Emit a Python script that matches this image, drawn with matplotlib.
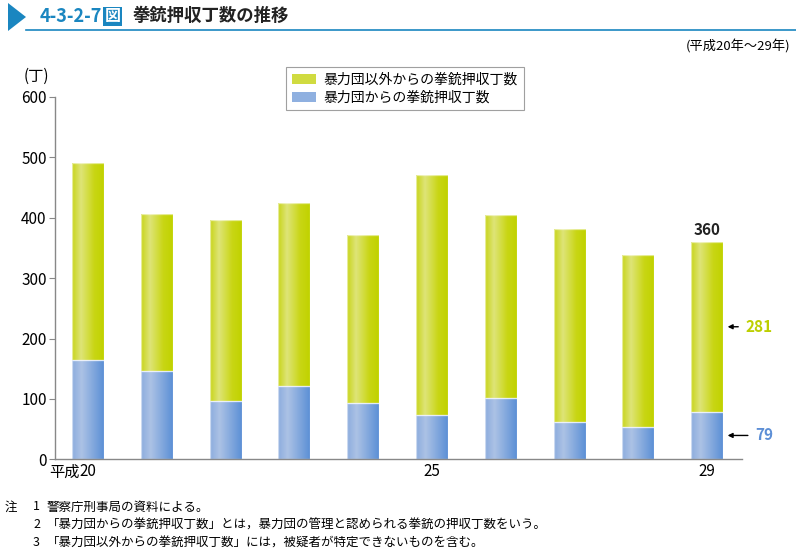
import numpy as np
import matplotlib.pyplot as plt
from matplotlib.patches import Polygon, Patch
from matplotlib.lines import Line2D

plt.rcParams['font.family'] = ['Noto Sans CJK JP', 'DejaVu Sans']

# データ（平成20年～29年）
years = ['20', '21', '22', '23', '24', '25', '26', '27', '28', '29']
tick_labels = ['20', '', '', '', '', '25', '', '', '', '29']
gang = [165, 147, 97, 122, 94, 73, 102, 62, 53, 79]          # 暴力団からの拳銃押収丁数
other = [326, 259, 299, 303, 278, 397, 303, 320, 286, 281]   # 暴力団以外からの拳銃押収丁数
total = [g + o for g, o in zip(gang, other)]

label_other = '暴力団以外からの拳銃押収丁数'
label_gang = '暴力団からの拳銃押収丁数'

GREEN = '#c6d400'
BLUE = '#6f9ad8'
TITLE_BLUE = '#1a86c0'

W, H = 796, 549


def fx(px):
    return px / W


def fy(py):
    return 1 - py / H


def grad_fill(ax, patch, stops):
    # 棒の中を横方向グラデーションで塗る
    x, y = patch.get_x(), patch.get_y()
    w, h = patch.get_width(), patch.get_height()
    t = np.linspace(0, 1, 80)
    pos = [s[0] for s in stops]
    rgb = np.array([s[1] for s in stops]) / 255.0
    row = np.stack([np.interp(t, pos, rgb[:, k]) for k in range(3)], axis=1)
    arr = np.tile(row[None, :, :], (2, 1, 1))
    im = ax.imshow(arr, extent=(x, x + w, y, y + h), aspect='auto',
                   interpolation='bilinear', zorder=2.1)
    im.set_clip_path(patch)


green_stops = [(0, (200, 213, 25)), (0.28, (222, 228, 120)), (0.7, (201, 214, 20)), (1.0, (192, 210, 0))]
blue_stops = [(0, (140, 172, 222)), (0.3, (172, 194, 229)), (1.0, (92, 144, 214))]

fig = plt.figure(figsize=(W / 100, H / 100), dpi=100)
ax = fig.add_axes([fx(55), fy(459.3), fx(741.7) - fx(55), fy(97) - fy(459.3)])

x = np.arange(len(years))
bw = 0.465
bars_g = ax.bar(x, gang, bw, color=BLUE, edgecolor='none', zorder=2)
bars_o = ax.bar(x, other, bw, bottom=gang, color=GREEN, edgecolor='none', zorder=2)

for p in bars_g:
    grad_fill(ax, p, blue_stops)
for p in bars_o:
    grad_fill(ax, p, green_stops)

# 棒の縁取り（淡い線）
for p in list(bars_g) + list(bars_o):
    ax.add_patch(plt.Rectangle((p.get_x(), p.get_y()), p.get_width(), p.get_height(),
                               fill=False, edgecolor='white', alpha=0.55, lw=0.9, zorder=2.5))

ax.set_xlim(-0.48, 9.5)
ax.set_ylim(0, 600)
ax.set_yticks([0, 100, 200, 300, 400, 500, 600])
ax.set_xticks(x)
ax.set_xticklabels(tick_labels, fontsize=11)
ax.tick_params(axis='x', length=0, pad=3)
ax.tick_params(axis='y', length=4, width=0.8, color='#888888', labelsize=11, pad=2)
for s in ['top', 'right']:
    ax.spines[s].set_visible(False)
for s in ['left', 'bottom']:
    ax.spines[s].set_color('#888888')
    ax.spines[s].set_linewidth(1.0)

ax.annotate('平成', xy=(0, 0), xycoords=('data', 'axes fraction'), xytext=(-6, -3),
            textcoords='offset points', ha='right', va='top', fontsize=11)

# 29年の注記
i = len(years) - 1
ax.text(x[i], total[i] + 6, str(total[i]), ha='center', va='bottom', fontsize=11,
        fontweight='bold', color='#222222')
ax.annotate('', xy=(x[i] + 0.255, gang[i] + other[i] / 2), xytext=(x[i] + 0.49, gang[i] + other[i] / 2),
            arrowprops=dict(arrowstyle='-|>', color='black', lw=1.0, mutation_scale=7))
ax.text(x[i] + 0.56, gang[i] + other[i] / 2, str(other[i]), ha='left', va='center',
        fontsize=11, fontweight='bold', color='#bccf00')
ax.annotate('', xy=(x[i] + 0.255, gang[i] / 2), xytext=(x[i] + 0.63, gang[i] / 2),
            arrowprops=dict(arrowstyle='-|>', color='black', lw=1.0, mutation_scale=7))
ax.text(x[i] + 0.69, gang[i] / 2, str(gang[i]), ha='left', va='center',
        fontsize=11, fontweight='bold', color='#5d8fd6')

# 凡例
handles = [Patch(facecolor='#d0db40', edgecolor='none', label=label_other),
           Patch(facecolor='#8fb0e0', edgecolor='none', label=label_gang)]
leg = fig.legend(handles=handles, loc='upper center', bbox_to_anchor=(fx(405), fy(67)),
                 fontsize=10, frameon=True, fancybox=False, edgecolor='#888888',
                 handlelength=1.7, handleheight=0.75, labelspacing=0.3, borderpad=0.4,
                 handletextpad=0.6, borderaxespad=0)
leg.get_frame().set_linewidth(0.8)

fig.text(fx(24), fy(76), '(丁)', fontsize=11, va='center', ha='left')
fig.text(fx(790), fy(47), '(平成20年～29年)', fontsize=9.5, va='center', ha='right')

# タイトル
fig.patches.append(Polygon([(fx(8), fy(3)), (fx(8), fy(31)), (fx(26), fy(17))], closed=True,
                           transform=fig.transFigure, facecolor=TITLE_BLUE, edgecolor='none'))
fig.lines.append(Line2D([fx(26), fx(796)], [fy(30), fy(30)], transform=fig.transFigure,
                        color=TITLE_BLUE, lw=1.2))
t1 = fig.text(fx(40), fy(16), '4-3-2-7', fontsize=13, fontweight='bold', color=TITLE_BLUE,
              va='center', ha='left')
t2 = fig.text(0, 0, '図', fontsize=11.5, fontweight='bold', color='white', va='center', ha='left',
              bbox=dict(facecolor=TITLE_BLUE, edgecolor='none', pad=1.0))
fig.canvas.draw()
bb = t1.get_window_extent()
t2.set_position((bb.x1 / W + fx(2), fy(16.5)))
fig.text(fx(133), fy(16), '拳銃押収丁数の推移', fontsize=12.5, fontweight='bold', color='#222222',
         va='center', ha='left')

# 注
notes = [('注', '1', '警察庁刑事局の資料による。'),
         ('', '2', '「暴力団からの拳銃押収丁数」とは，暴力団の管理と認められる拳銃の押収丁数をいう。'),
         ('', '3', '「暴力団以外からの拳銃押収丁数」には，被疑者が特定できないものを含む。')]
for k, (a, b, c) in enumerate(notes):
    yy = fy(507 + k * 18)
    if a:
        fig.text(fx(5), yy, a, fontsize=9, va='center', ha='left')
    fig.text(fx(33), yy, b, fontsize=9, va='center', ha='left')
    fig.text(fx(47), yy, c, fontsize=9, va='center', ha='left')

fig.savefig('out.png', dpi=100)
